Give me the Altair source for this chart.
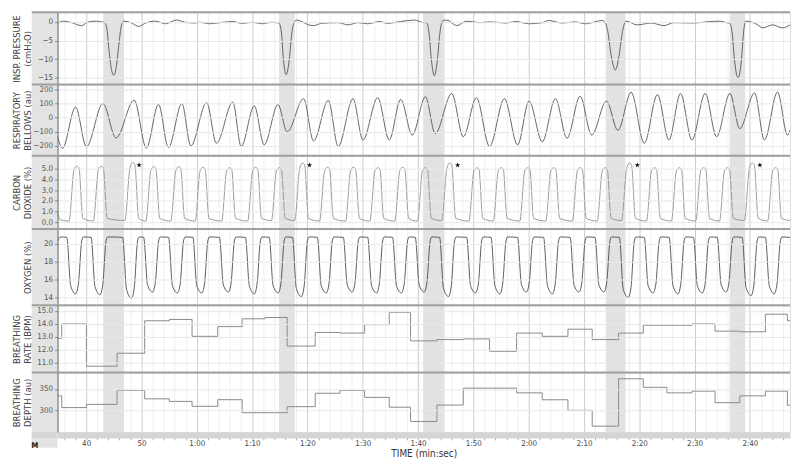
import altair as alt
import pandas as pd

# ---------------- data (time in seconds) ----------------
press_t = [34.82, 35.95, 37.38, 39.16, 40.41, 41.84, 42.73, 43.27, 43.71, 44.16, 44.60, 45.00, 45.41, 45.85,
           46.30, 46.75, 48.09, 49.51, 50.76, 52.55, 54.33, 56.30, 57.90, 59.69, 60.58, 62.37, 64.15, 66.47,
           68.26, 70.04, 71.83, 73.43, 74.86, 75.31, 75.66, 76.16, 76.73, 77.18, 77.72, 78.07, 78.97, 80.21,
           81.11, 82.53, 85.57, 87.35, 89.14, 90.92, 93.07, 94.49, 96.81, 99.31, 101.10, 101.54, 101.99,
           102.40, 102.94, 103.51, 103.95, 104.49, 105.20, 107.00, 108.77, 111.09, 112.88, 114.13, 115.91,
           117.70, 120.02, 122.52, 123.59, 126.09, 128.41, 130.19, 131.98, 133.23, 133.76, 134.30, 134.92,
           135.67, 136.35, 136.97, 137.60, 139.65, 142.15, 144.47, 146.26, 149.83, 152.15, 154.65, 155.72,
           156.34, 156.79, 157.23, 157.86, 158.45, 158.84, 159.20, 161.07, 162.32, 164.10, 165.89, 167.25]
press_v = [-0.3, 0.2, -0.2, -1.0, 0.0, 0.2, 0.0, -0.1, -1.5, -8, -13, -14.3, -12.5, -7,
           -1.5, 0.2, -0.2, -1.2, -0.3, 0.2, -0.5, 0.5, -0.1, -0.3, -0.1, -0.5, -0.2, 0.1,
           -0.4, -0.1, -0.5, -0.1, -0.3, -3, -10, -14.2, -10, -3, 0.2, 0.5, 0.1, -0.8,
           -1.0, -0.4, -0.2, -0.8, -0.2, -0.5, 0.1, -0.4, 0.1, 0.5, -0.2, -0.2, -3,
           -10, -14.5, -10, -3, 0.3, 0.5, -1.0, 0.2, -0.2, 0.0, -0.1, -0.3,
           0.1, -0.5, -0.2, 0.4, -0.3, 0.0, -0.5, 0.0, 0.4, 0.0, -2.5, -9,
           -12.9, -9, -2.5, 0.2, -0.8, -0.3, -1.0, -0.2, -0.3, 0.0, 0.2, -0.2,
           -0.3, -3, -10.5, -15.1, -10.5, -3, 0.2, -0.5, -1.6, -0.8, -1.6, -0.8]

bel_t = [34.82, 35.72, 38.09, 40.05, 43.03, 45.41, 48.68, 50.89, 53.08, 54.87, 57.31, 58.92, 61.78, 63.56,
         66.52, 68.02, 70.40, 72.18, 74.68, 76.34, 79.32, 81.11, 83.78, 85.57, 88.25, 90.03, 92.71, 94.80,
         96.87, 98.96, 101.33, 103.11, 106.10, 108.18, 110.56, 112.93, 115.61, 118.00, 120.07, 122.46,
         124.84, 126.93, 129.30, 131.39, 134.06, 136.14, 138.53, 140.90, 143.28, 145.36, 147.45, 149.52,
         151.91, 153.98, 156.38, 158.16, 160.84, 162.62, 165.00, 166.78, 167.25]
bel_v = [-130, -220, 75, -208, 100, -145, 125, -218, 95, -214, 100, -202, 107, -183,
         111, -207, 84, -195, 93, -102, 135, -167, 123, -207, 135, -160, 142, -160,
         130, -125, 149, -114, 172, -137, 142, -207, 135, -195, 118, -172,
         135, -148, 153, -125, 118, -91, 181, -183, 165, -160, 172, -160,
         172, -137, 172, -79, 176, -160, 183, -125, -90]

co2_t = [34.82, 35.4,
         36.9, 37.8, 38.3, 38.7, 39.4,
         41.3, 42.2, 42.7, 43.1, 43.8,
         47.0, 47.9, 48.4, 48.8, 49.5,
         50.8, 51.7, 52.2, 52.6, 53.3,
         55.3, 56.2, 56.7, 57.1, 57.8,
         59.7, 60.6, 61.1, 61.5, 62.2,
         64.5, 65.4, 65.9, 66.3, 67.0,
         69.2, 70.1, 70.6, 71.0, 71.7,
         73.5, 74.4, 74.9, 75.3, 76.0,
         77.7, 78.6, 79.1, 79.5, 80.2,
         82.2, 83.1, 83.6, 84.0, 84.7,
         86.9, 87.8, 88.3, 88.7, 89.4,
         91.3, 92.2, 92.7, 93.1, 93.8,
         95.8, 96.7, 97.2, 97.6, 98.3,
         99.9, 100.8, 101.3, 101.7, 102.4,
         104.3, 105.2, 105.7, 106.1, 106.8,
         109.2, 110.1, 110.6, 111.0, 111.7,
         113.6, 114.5, 115.0, 115.4, 116.1,
         118.4, 119.3, 119.8, 120.2, 120.9,
         123.1, 124.0, 124.5, 124.9, 125.6,
         127.9, 128.8, 129.3, 129.7, 130.4,
         132.4, 133.3, 133.8, 134.2, 134.9,
         136.8, 137.7, 138.2, 138.6, 139.3,
         141.3, 142.2, 142.7, 143.1, 143.8,
         145.8, 146.7, 147.2, 147.6, 148.3,
         150.2, 151.1, 151.6, 152.0, 152.7,
         154.5, 155.4, 155.9, 156.3, 157.0,
         159.0, 159.9, 160.4, 160.8, 161.5,
         163.2, 164.1, 164.6, 165.0, 165.7,
         167.25]
co2_v = [0.9, 0.2,
         0.1, 4.9, 5.25, 5.1, 0.35,
         0.1, 4.9, 5.25, 5.1, 0.35,
         0.15, 5.0, 5.6, 5.4, 0.35,
         0.1, 4.85, 5.2, 5.05, 0.35,
         0.1, 4.8, 5.2, 5.05, 0.35,
         0.1, 4.8, 5.15, 5.0, 0.35,
         0.1, 4.8, 5.1, 5.0, 0.35,
         0.1, 4.8, 5.15, 5.0, 0.35,
         0.15, 4.8, 5.1, 4.95, 0.35,
         0.15, 5.0, 5.55, 5.35, 0.35,
         0.1, 4.8, 5.15, 5.0, 0.35,
         0.1, 4.8, 5.15, 5.0, 0.35,
         0.1, 4.8, 5.1, 5.0, 0.35,
         0.1, 4.8, 5.15, 5.0, 0.35,
         0.1, 4.8, 5.1, 4.95, 0.35,
         0.15, 5.0, 5.55, 5.35, 0.35,
         0.1, 4.8, 5.1, 5.0, 0.35,
         0.1, 4.8, 5.1, 5.0, 0.35,
         0.1, 4.8, 5.1, 5.0, 0.35,
         0.1, 4.8, 5.1, 5.0, 0.35,
         0.1, 4.8, 5.1, 5.0, 0.35,
         0.1, 4.8, 5.1, 5.0, 0.35,
         0.15, 5.0, 5.55, 5.35, 0.35,
         0.1, 4.8, 5.1, 5.0, 0.35,
         0.1, 4.8, 5.1, 5.0, 0.35,
         0.1, 4.8, 5.1, 5.0, 0.35,
         0.1, 4.8, 5.1, 5.0, 0.35,
         0.15, 5.0, 5.55, 5.35, 0.35,
         0.1, 4.8, 5.1, 5.0, 0.35,
         0.15]

o2_t = [34.82, 35.4,
        36.5, 37.2, 38.1, 38.6, 39.2, 39.5,
        40.9, 41.6, 42.5, 43.0, 43.6, 43.9,
        46.6, 47.3, 48.2, 48.7, 49.3, 49.6,
        50.4, 51.1, 52.0, 52.5, 53.1, 53.4,
        54.9, 55.6, 56.5, 57.0, 57.6, 57.9,
        59.3, 60.0, 60.9, 61.4, 62.0, 62.3,
        64.1, 64.8, 65.7, 66.2, 66.8, 67.1,
        68.8, 69.5, 70.4, 70.9, 71.5, 71.8,
        73.1, 73.8, 74.7, 75.2, 75.8, 76.1,
        77.3, 78.0, 78.9, 79.4, 80.0, 80.3,
        81.8, 82.5, 83.4, 83.9, 84.5, 84.8,
        86.5, 87.2, 88.1, 88.6, 89.2, 89.5,
        90.9, 91.6, 92.5, 93.0, 93.6, 93.9,
        95.4, 96.1, 97.0, 97.5, 98.1, 98.4,
        99.5, 100.2, 101.1, 101.6, 102.2, 102.5,
        103.9, 104.6, 105.5, 106.0, 106.6, 106.9,
        108.8, 109.5, 110.4, 110.9, 111.5, 111.8,
        113.2, 113.9, 114.8, 115.3, 115.9, 116.2,
        118.0, 118.7, 119.6, 120.1, 120.7, 121.0,
        122.7, 123.4, 124.3, 124.8, 125.4, 125.7,
        127.5, 128.2, 129.1, 129.6, 130.2, 130.5,
        132.0, 132.7, 133.6, 134.1, 134.7, 135.0,
        136.4, 137.1, 138.0, 138.5, 139.1, 139.4,
        140.9, 141.6, 142.5, 143.0, 143.6, 143.9,
        145.4, 146.1, 147.0, 147.5, 148.1, 148.4,
        149.8, 150.5, 151.4, 151.9, 152.5, 152.8,
        154.1, 154.8, 155.7, 156.2, 156.8, 157.1,
        158.6, 159.3, 160.2, 160.7, 161.3, 161.6,
        162.8, 163.5, 164.4, 164.9, 165.5, 165.8,
        167.25]
o2_v = [20.3, 20.75,
        20.7, 15.3, 14.4, 15.5, 20.3, 20.75,
        20.7, 15.2, 14.3, 15.4, 20.3, 20.75,
        20.7, 14.9, 13.9, 15.1, 20.3, 20.75,
        20.7, 15.4, 14.6, 15.6, 20.3, 20.75,
        20.7, 15.3, 14.5, 15.5, 20.3, 20.75,
        20.7, 15.3, 14.5, 15.5, 20.3, 20.75,
        20.7, 15.4, 14.6, 15.6, 20.3, 20.75,
        20.7, 15.3, 14.4, 15.5, 20.3, 20.75,
        20.7, 15.3, 14.5, 15.5, 20.3, 20.75,
        20.7, 15.0, 14.1, 15.2, 20.3, 20.75,
        20.7, 15.3, 14.5, 15.5, 20.3, 20.75,
        20.7, 15.4, 14.6, 15.6, 20.3, 20.75,
        20.7, 15.3, 14.5, 15.5, 20.3, 20.75,
        20.7, 15.3, 14.5, 15.5, 20.3, 20.75,
        20.7, 15.4, 14.6, 15.6, 20.3, 20.75,
        20.7, 15.0, 14.1, 15.2, 20.3, 20.75,
        20.7, 15.3, 14.5, 15.5, 20.3, 20.75,
        20.7, 15.3, 14.4, 15.5, 20.3, 20.75,
        20.7, 15.4, 14.6, 15.6, 20.3, 20.75,
        20.7, 15.3, 14.4, 15.5, 20.3, 20.75,
        20.7, 15.4, 14.6, 15.6, 20.3, 20.75,
        20.7, 15.4, 14.6, 15.6, 20.3, 20.75,
        20.7, 14.9, 14.0, 15.1, 20.3, 20.75,
        20.7, 15.3, 14.5, 15.5, 20.3, 20.75,
        20.7, 15.3, 14.4, 15.5, 20.3, 20.75,
        20.7, 15.3, 14.5, 15.5, 20.3, 20.75,
        20.7, 15.4, 14.6, 15.6, 20.3, 20.75,
        20.7, 15.1, 14.2, 15.3, 20.3, 20.75,
        20.7, 15.3, 14.4, 15.5, 20.3, 20.75,
        20.7]

rate_t = [34.82, 35.59, 40.05, 45.59, 50.58, 55.05, 59.15, 63.79, 68.20, 72.31, 76.34, 81.41, 85.87,
          90.34, 94.80, 98.65, 103.42, 108.18, 112.93, 117.82, 122.46, 127.10, 131.49, 136.26, 140.72,
          149.52, 153.70, 158.16, 162.80, 166.78, 167.25]
rate_v = [12.9, 14.0, 10.75, 11.75, 14.25, 14.35, 13.05, 13.8, 14.4, 14.5, 12.3, 13.35, 13.3,
          13.95, 14.9, 12.7, 12.8, 12.85, 11.9, 13.3, 13.05, 13.6, 12.8, 13.3, 13.9,
          14.0, 13.45, 13.4, 14.75, 14.25, 14.25]

depth_t = [34.82, 35.59, 40.05, 45.59, 50.58, 55.05, 59.15, 63.79, 68.20, 76.34, 81.41, 85.87, 90.34,
           94.80, 98.65, 103.42, 108.18, 117.82, 122.46, 127.10, 131.49, 136.26, 140.72, 144.99,
           149.52, 153.70, 158.16, 162.80, 166.78, 167.25]
depth_v = [334, 306.5, 314, 346.5, 327, 321, 309.5, 325, 294.5, 308.7, 340, 346.5, 330.4,
           307.4, 274, 312.4, 352, 341, 324.8, 300, 263, 374, 354, 341,
           345, 318, 334, 345, 312, 312]

band_start = [43.09, 74.86, 100.92, 133.94, 156.37]
band_end = [46.84, 77.72, 104.79, 137.51, 159.16]

star_t = [49.57, 80.39, 107.17, 139.65, 161.79]
star_v = [5.35, 5.35, 5.35, 5.35, 5.35]

x_tick_values = list(range(36, 167, 2))

titles = [["INSP. PRESSURE", "(cmH\u2082O)"], ["RESPIRATORY", "BELLOWS (au)"], ["CARBON", "DIOXIDE (%)"],
          "OXYGEN (%)", ["BREATHING", "RATE (BPM)"], ["BREATHING", "DEPTH (au)"]]

# ---------------- styling ----------------
FONT = "Liberation Sans Narrow, DejaVu Sans Condensed, Roboto, sans-serif"
W = 740
X_DOMAIN = [34.82, 167.25]
BAND = "#e2e2e2"
COL = "#e3e3e3"
SEP = "#a0a0a0"
GRID = {"condition": {"test": "datum.value % 10 === 0", "value": "#cccccc"}, "value": "#efefef"}
LABEL_EXPR = ("datum.value % 10 === 0 ? (datum.value < 60 ? '' + datum.value : "
              "floor(datum.value / 60) + ':' + (datum.value % 60 < 10 ? '0' : '') + (datum.value % 60)) : ''")
STAR = ("M0,-1L0.235,-0.324L0.951,-0.309L0.38,0.124L0.588,0.809L0,0.4L-0.588,0.809"
        "L-0.38,0.124L-0.951,-0.309L-0.235,-0.324Z")

band_df = pd.DataFrame({"s": band_start, "e": band_end})
one = pd.DataFrame({"k": [0]})


def x_axis(bottom):
    if bottom:
        return alt.Axis(values=x_tick_values, grid=True, gridColor=GRID, labelExpr=LABEL_EXPR,
                        labelOverlap=False, labelFlush=False, labelBound=False, labelFont=FONT,
                        labelFontSize=8, labelColor="#444", labelPadding=0, tickSize=5,
                        tickColor="#aaaaaa", domainColor="#d5d5d5", domainWidth=6, offset=3,
                        title="TIME (min:sec)", titleFont=FONT, titleFontSize=10,
                        titleFontWeight="normal", titleColor="#333", titlePadding=1)
    return alt.Axis(values=x_tick_values, grid=True, gridColor=GRID, labels=False, ticks=False,
                    domain=False, title="")


def panel(t, v, domain, H, yvals, yfmt, title, color, interp, width=1.0, bottom=False, stars=False):
    xs = alt.Scale(domain=X_DOMAIN, nice=False, zero=False)
    ys = alt.Scale(domain=domain, nice=False, zero=False)
    two_line = isinstance(title, list)
    yaxis = alt.Axis(values=yvals, format=yfmt, title=title, titleFont=FONT, titleFontSize=9.5,
                     titleFontWeight="normal", titleColor="#444", titleAngle=270,
                     titleBaseline="alphabetic", titleAlign="center",
                     titleX=-38 if two_line else -27, titleY=H / 2, titleLineHeight=11,
                     labelFont=FONT, labelFontSize=8, labelColor="#555", labelPadding=2,
                     tickSize=3, tickColor="#888", domainColor="#666", grid=True,
                     gridColor="#e8e8e8", zindex=1)
    xa = x_axis(bottom)
    layers = [
        alt.Chart(band_df).mark_rect(color=BAND).encode(
            x=alt.X("s:Q", scale=xs, axis=xa), x2="e:Q"),
        alt.Chart(one).mark_rect(color=COL).encode(
            x=alt.value(-26), x2=alt.value(0), y=alt.value(0),
            y2=alt.value(H + 16 if bottom else H)),
        alt.Chart(one).mark_rule(color=SEP, strokeWidth=2).encode(
            x=alt.value(-26), x2=alt.value(W), y=alt.value(0)),
        alt.Chart(pd.DataFrame({"t": t, "v": v})).mark_line(
            color=color, strokeWidth=width, interpolate=interp, clip=True).encode(
            x=alt.X("t:Q", scale=xs, axis=xa), y=alt.Y("v:Q", scale=ys, axis=yaxis)),
    ]
    if stars:
        layers.append(alt.Chart(pd.DataFrame({"t": star_t, "v": star_v})).mark_point(
            shape=STAR, filled=True, color="#111", size=30, opacity=1).encode(
            x=alt.X("t:Q", scale=xs, axis=xa), y=alt.Y("v:Q", scale=ys, axis=yaxis)))
    if bottom:
        layers.append(alt.Chart(one).mark_rect(color="#d5d5d5").encode(
            x=alt.value(-26), x2=alt.value(0), y=alt.value(H), y2=alt.value(H + 6)))
        layers.append(alt.Chart(one).mark_text(text="M", font=FONT, fontSize=8, fontWeight="bold",
                                               color="#222").encode(
            x=alt.value(-23), y=alt.value(H + 14)))
    return alt.layer(*layers).properties(width=W, height=H)


p1 = panel(press_t, press_v, [-16.84, 2.59], 73, [0, -5, -10, -15], "d", titles[0], "#555", "monotone", 0.9)
p2 = panel(bel_t, bel_v, [-273, 236], 72, [200, 100, 0, -100, -200], "d", titles[1], "#555", "monotone", 0.9)
p3 = panel(co2_t, co2_v, [-0.65, 6.22], 74, [0, 1, 2, 3, 4, 5], ".1f", titles[2], "#909090",
           "monotone", 0.9, stars=True)
p4 = panel(o2_t, o2_v, [13.12, 21.63], 77, [14, 16, 18, 20], "d", titles[3], "#4a4a4a", "monotone", 0.9)
p5 = panel(rate_t, rate_v, [10.26, 15.44], 68, [11, 12, 13, 14, 15], ".1f", titles[4], "#8a8a8a",
           "step-after", 1.0)
p6 = panel(depth_t, depth_v, [249.3, 388.5], 60, [300, 350], "d", titles[5], "#8a8a8a",
           "step-after", 1.0, bottom=True)

chart = alt.vconcat(p1, p2, p3, p4, p5, p6, spacing=0, bounds="flush").properties(
    padding={"left": 3, "top": 0, "right": 0, "bottom": 0}
).configure_view(stroke=None).configure(font=FONT)

chart.save("out.html", embed_options={"renderer": "svg", "actions": False})
